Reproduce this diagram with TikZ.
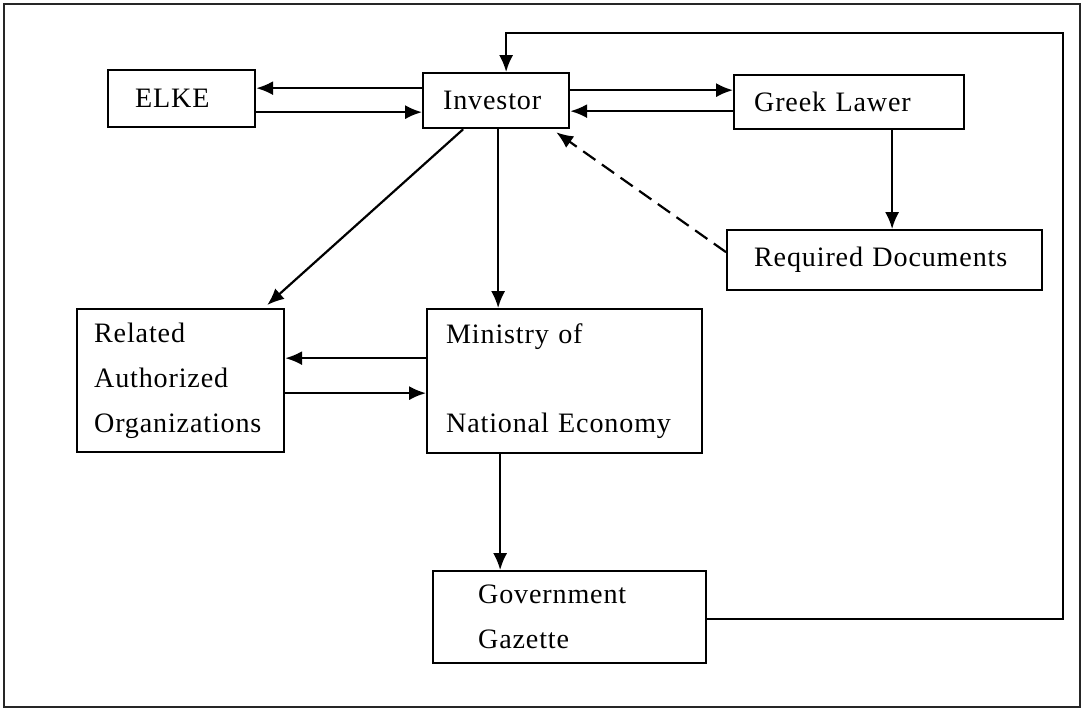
\documentclass[tikz,border=0pt]{standalone}
\usepackage{fontspec}
\setmainfont{Liberation Serif}[LetterSpace=3,WordSpace=1.8]
\usepackage{tikz}
\usetikzlibrary{arrows.meta}

\begin{document}
\begin{tikzpicture}[x=0.02cm, y=-0.02cm,
    box/.style={draw, line width=1.3pt, anchor=north west, align=left, inner ysep=0pt,
      font=\fontsize{16}{25.6}\selectfont},
    arr/.style={line width=1.25pt, -{Latex[length=9.6pt,width=8pt]}}]
  % Frame of the whole figure
  \useasboundingbox (0,0) rectangle (1084,711);
  \draw[line width=1.1pt, black!85] (4,4) rectangle (1080,707);

  % Draw the boxes
  \node[box, minimum height=1.14cm, text width=1.86cm, inner xsep=0.54cm] (elke) at (107,69) {ELKE};
  \node[box, minimum height=1.1cm, text width=2.12cm, inner xsep=0.4cm] (investor) at (422,72) {Investor};
  \node[box, minimum height=1.08cm, text width=3.8cm, inner xsep=0.4cm] (lawer) at (733,74) {Greek Lawer};
  \node[box, minimum height=1.2cm, text width=5.22cm, inner xsep=0.54cm] (docs) at (726,229) {Required Documents};
  \node[box, minimum height=2.86cm, text width=3.46cm, inner xsep=0.34cm] (related) at (76,308)
    {Related\\Authorized\\Organizations};
  \node[box, minimum height=2.88cm, text width=4.74cm, inner xsep=0.38cm] (ministry) at (426,308)
    {Ministry of\\[25.6pt]National Economy};
  \node[box, minimum height=1.84cm, text width=3.66cm, inner xsep=0.9cm] (gazette) at (432,570)
    {Government\\Gazette};

  % Investor and ELKE
  \draw[arr] ([yshift=0.25cm]investor.west) -- ([yshift=0.25cm]investor.west -| elke.east);
  \draw[arr] ([yshift=-0.23cm]investor.west -| elke.east) -- ([yshift=-0.23cm]investor.west);

  % Investor and Greek lawer
  \draw[arr] ([yshift=0.21cm]investor.east) -- ([yshift=0.21cm]investor.east -| lawer.west);
  \draw[arr] ([yshift=-0.21cm]investor.east -| lawer.west) -- ([yshift=-0.21cm]investor.east);
  \draw[arr] ([xshift=0.15cm]docs.north |- lawer.south) -- ([xshift=0.15cm]docs.north);
  \draw[arr, dash pattern=on 8.5pt off 4.5pt] ([yshift=0.16cm]docs.west)
    -- ([xshift=-0.28cm,yshift=-0.06cm]investor.south east);

  % Investor down to the ministry and the organizations
  \draw[arr] ([xshift=-0.66cm]investor.south) -- ([xshift=-0.36cm,yshift=0.06cm]related.north east);
  \draw[arr] ([xshift=0.04cm]investor.south) -- ([xshift=0.04cm]investor.south |- ministry.north);
  \draw[arr] ([yshift=0.46cm]ministry.west) -- ([yshift=0.46cm]ministry.west -| related.east);
  \draw[arr] ([yshift=-0.24cm]ministry.west -| related.east) -- ([yshift=-0.24cm]ministry.west);

  % Ministry to the gazette and back to the investor
  \draw[arr] ([xshift=-1.39cm]gazette.north |- ministry.south) -- ([xshift=-1.39cm]gazette.north);
  \coordinate (corner) at (1063,33);
  \draw[arr] ([yshift=-0.04cm]gazette.east) -| (corner) -| ([xshift=0.2cm]investor.north);
\end{tikzpicture}
\end{document}
